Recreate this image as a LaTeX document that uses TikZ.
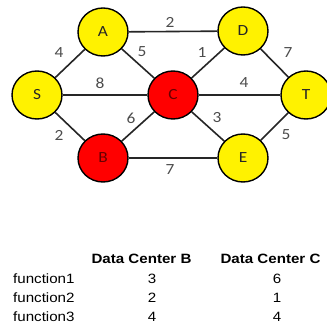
\documentclass[tikz,border=0pt]{standalone}
\usepackage{fontspec}
\setmainfont{Carlito}
\newfontfamily\arialfont{Liberation Sans}
\usetikzlibrary{shapes.geometric}
\newcommand{\sx}[1]{\scalebox{1.12}[1]{#1}}
\begin{document}
\begin{tikzpicture}[x=1pt,y=-1pt,
  vert/.style={ellipse,draw=black,line width=1.4pt,minimum width=50pt,minimum height=48pt,inner sep=0pt,font=\fontsize{15.5}{15.5}\selectfont,text=black!85},
  yel/.style={vert,fill=yellow},
  rd/.style={vert,fill=red,text=red!40!black},
  edge/.style={draw=black!85,line width=1.6pt},
  wt/.style={font=\fontsize{15.5}{15.5}\selectfont,text=black!70,inner sep=0pt},
  tab/.style={font=\arialfont\fontsize{13.5}{13.5}\selectfont,text=black,inner sep=0pt},
  tabh/.style={font=\arialfont\bfseries\fontsize{13.5}{13.5}\selectfont,text=black,inner sep=0pt}]
\useasboundingbox (0,0) rectangle (327,326);
\fill[white] (0,0) rectangle (327,326);
\node[yel] (A) at (103,32) {\sx{A}};
\node[yel] (D) at (243,31) {\sx{D}};
\node[yel] (S) at (37,95) {\sx{S}};
\node[rd]  (C) at (173,95) {\sx{C}};
\node[yel] (T) at (306,95) {\sx{T}};
\node[rd]  (B) at (103,158) {\sx{B}};
\node[yel] (E) at (243,158) {\sx{E}};
\path[edge] (A) -- (D);
\path[edge] (S) -- (A);
\path[edge] (A) -- (C);
\path[edge] (C) -- (D);
\path[edge] (D) -- (T);
\path[edge] (S) -- (C);
\path[edge] (C) -- (T);
\path[edge] (B) -- (C);
\path[edge] (C) -- (E);
\path[edge] (S) -- (B);
\path[edge] (E) -- (T);
\path[edge] (B) -- (E);
% weights
\node[wt] (w1) at (170,22) {\sx{2}};
\node[wt] (w2) at (59,53) {\sx{4}};
\node[wt] (w3) at (142,52) {\sx{5}};
\node[wt] (w4) at (202,53) {\sx{1}};
\node[wt] (w5) at (288,53) {\sx{7}};
\node[wt] (w6) at (100,83) {\sx{8}};
\node[wt] (w7) at (244,83) {\sx{4}};
\node[wt] (w8) at (131,118) {\sx{6}};
\node[wt] (w9) at (217,118) {\sx{3}};
\node[wt] (w10) at (59,135) {\sx{2}};
\node[wt] (w11) at (286,135) {\sx{5}};
\node[wt] (w12) at (170,170) {\sx{7}};
% table
\node[tabh] (h1) at (141.5,259) {\sx{Data Center B}};
\node[tabh] (h2) at (270.5,259) {\sx{Data Center C}};
\node[tab,anchor=west] (f1) at (13,279) {\sx{function1}};
\node[tab,anchor=west] (f2) at (13,298) {\sx{function2}};
\node[tab,anchor=west] (f3) at (13,317) {\sx{function3}};
\node[tab] (b1) at (152,279) {\sx{3}};
\node[tab] (b2) at (152,298) {\sx{2}};
\node[tab] (b3) at (152,317) {\sx{4}};
\node[tab] (c1) at (277,279) {\sx{6}};
\node[tab] (c2) at (277,298) {\sx{1}};
\node[tab] (c3) at (277,317) {\sx{4}};
\end{tikzpicture}
\end{document}
